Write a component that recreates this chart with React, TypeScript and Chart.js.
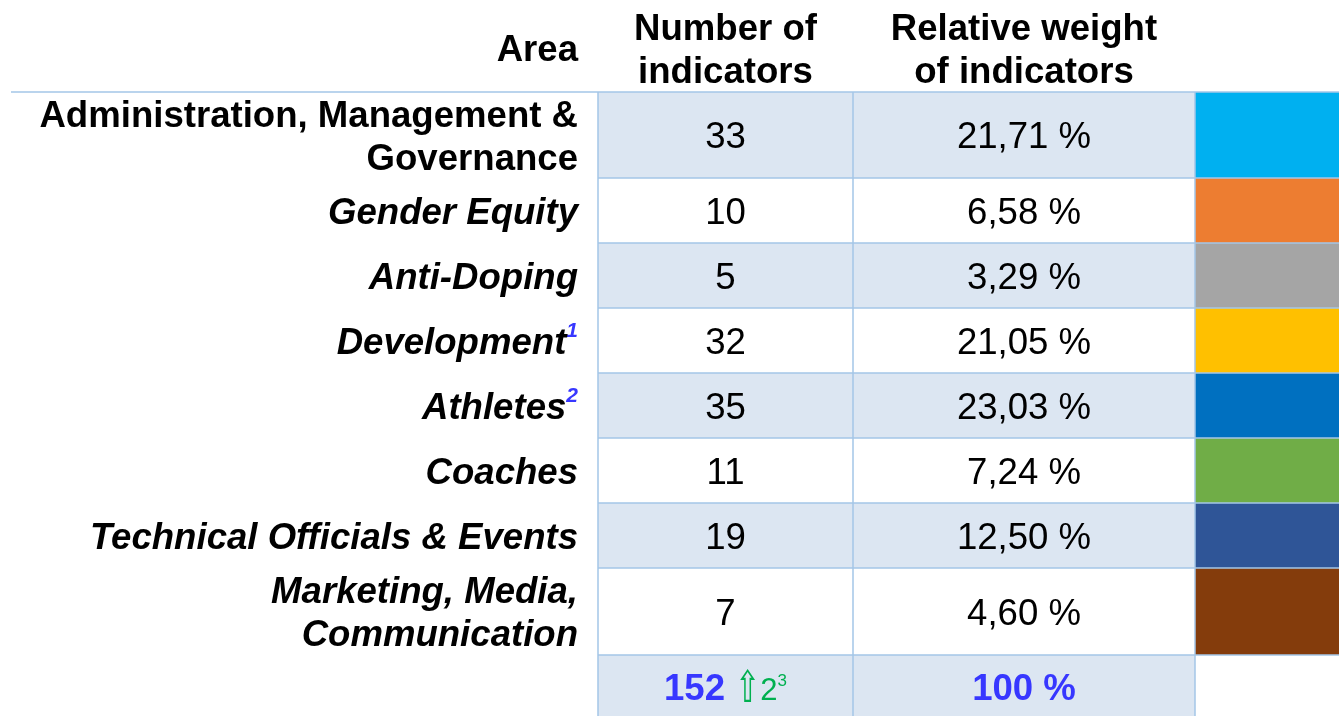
import React, { useEffect, useRef } from "react";
import { Chart, registerables } from "chart.js";

Chart.register(...registerables);

// ---------- data ----------
const headers = ["Area", "Number of\nindicators", "Relative weight\nof indicators"];
const areas = [
  "Administration, Management &\nGovernance",
  "Gender Equity",
  "Anti-Doping",
  "Development",
  "Athletes",
  "Coaches",
  "Technical Officials & Events",
  "Marketing, Media,\nCommunication",
];
const areaItalic = [false, true, true, true, true, true, true, true];
const areaFootnotes = ["", "", "", "1", "2", "", "", ""];
const indicatorCounts = [33, 10, 5, 32, 35, 11, 19, 7];
const relativeWeights = [21.71, 6.58, 3.29, 21.05, 23.03, 7.24, 12.5, 4.6];
const areaColors = ["#00b0f0", "#ed7d31", "#a5a5a5", "#ffc000", "#0070c0", "#70ad47", "#2f5597", "#843c0c"];
const totalCount = 152;
const totalIncrease = 2;
const totalFootnote = "3";
const totalWeight = 100;

// ---------- layout ----------
const W = 1339;
const H = 716;
const headerBottom = 92;
const rowHeights = [86, 65, 65, 65, 65, 65, 65, 87, 66];
const labelRight = 578;
const topLineStart = 11;
const colEdges = [598, 853, 1195, 1339];
const FONT = "'Liberation Sans', Arial, sans-serif";
const FS = 36.6;
const LINE_GAP = 43;
const GRID = "#a4c6e7";
const SHADE = "#dce6f2";
const BLUE = "#3737ff";
const GREEN = "#00b050";

const fmtPct = (v: number, d = 2) => v.toFixed(d).replace(".", ",") + " %";

const tablePlugin = {
  id: "tablePlugin",
  afterDraw(chart: any) {
    const { ctx, scales } = chart;
    const xs = scales.x;
    const ys = scales.y;
    const X = (v: number) => xs.getPixelForValue(v);
    const Y = (v: number) => ys.getPixelForValue(v);

    const edges = [headerBottom];
    rowHeights.forEach((h) => edges.push(edges[edges.length - 1] + h));
    const nRows = areas.length + 1;

    ctx.save();
    // shading and swatches
    for (let i = 0; i < nRows; i++) {
      const top = Y(edges[i]);
      const bot = Y(edges[i + 1]);
      if (i % 2 === 0) {
        ctx.fillStyle = SHADE;
        ctx.fillRect(X(colEdges[0]), top, X(colEdges[2]) - X(colEdges[0]), bot - top);
      }
      if (i < areas.length) {
        ctx.fillStyle = areaColors[i];
        ctx.fillRect(X(colEdges[2]), top, X(colEdges[3]) - X(colEdges[2]), bot - top);
      }
    }

    // grid lines
    ctx.strokeStyle = GRID;
    ctx.lineWidth = 1.5;
    ctx.beginPath();
    ctx.moveTo(X(topLineStart), Y(edges[0]));
    ctx.lineTo(X(W), Y(edges[0]));
    for (let i = 1; i < nRows; i++) {
      ctx.moveTo(X(colEdges[0]), Y(edges[i]));
      ctx.lineTo(X(colEdges[3]), Y(edges[i]));
    }
    for (let c = 0; c < 3; c++) {
      ctx.moveTo(X(colEdges[c]), Y(edges[0]));
      ctx.lineTo(X(colEdges[c]), Y(H));
    }
    ctx.stroke();

    const capOff = FS * 0.358;
    // headers
    ctx.fillStyle = "#000";
    ctx.font = `bold ${FS}px ${FONT}`;
    ctx.textAlign = "right";
    ctx.fillText(headers[0], X(labelRight), Y(headerBottom / 2 + 2) + capOff);
    ctx.textAlign = "center";
    for (let c = 1; c < 3; c++) {
      const lines = headers[c].split("\n");
      const cx = X((colEdges[c - 1] + colEdges[c]) / 2);
      lines.forEach((ln, k) => {
        const cy = headerBottom / 2 + 2 + (k - (lines.length - 1) / 2) * LINE_GAP;
        ctx.fillText(ln, cx, Y(cy) + capOff);
      });
    }

    // rows
    for (let i = 0; i < areas.length; i++) {
      const mid = (edges[i] + edges[i + 1]) / 2;
      const lines = areas[i].split("\n");
      const mainFont = `${areaItalic[i] ? "italic " : ""}bold ${FS}px ${FONT}`;
      let right = X(labelRight);
      if (areaFootnotes[i]) {
        ctx.font = `italic bold 21px ${FONT}`;
        ctx.fillStyle = BLUE;
        ctx.textAlign = "right";
        ctx.fillText(areaFootnotes[i], right, Y(mid) - 4);
        right -= ctx.measureText(areaFootnotes[i]).width;
      }
      ctx.font = mainFont;
      ctx.fillStyle = "#000";
      ctx.textAlign = "right";
      lines.forEach((ln, k) => {
        const cy = mid + (k - (lines.length - 1) / 2) * LINE_GAP;
        ctx.fillText(ln, right, Y(cy) + capOff);
      });

      ctx.font = `${FS}px ${FONT}`;
      ctx.textAlign = "center";
      ctx.fillText(String(indicatorCounts[i]), X((colEdges[0] + colEdges[1]) / 2), Y(mid) + capOff);
      ctx.fillText(fmtPct(relativeWeights[i]), X((colEdges[1] + colEdges[2]) / 2), Y(mid) + capOff);
    }

    // total row
    const ti = areas.length;
    const tmid = edges[ti] + 32;
    const base = Y(tmid) + capOff;
    const pieces: { text: string; font: string; color: string; dy: number; sx: number }[] = [
      { text: String(totalCount) + " ", font: `bold ${FS}px ${FONT}`, color: BLUE, dy: 0, sx: 1 },
      { text: "⇧", font: `44px 'DejaVu Sans', sans-serif`, color: GREEN, dy: 2, sx: 0.68 },
      { text: String(totalIncrease), font: `31px ${FONT}`, color: GREEN, dy: 0, sx: 1 },
      { text: totalFootnote, font: `17px ${FONT}`, color: GREEN, dy: -14, sx: 1 },
    ];
    let totalW = 0;
    const widths = pieces.map((p) => {
      ctx.font = p.font;
      const w = ctx.measureText(p.text).width * p.sx;
      totalW += w;
      return w;
    });
    let px = X((colEdges[0] + colEdges[1]) / 2) - totalW / 2;
    ctx.textAlign = "left";
    pieces.forEach((p, k) => {
      ctx.font = p.font;
      ctx.fillStyle = p.color;
      ctx.save();
      ctx.translate(px, base + p.dy);
      ctx.scale(p.sx, 1);
      ctx.fillText(p.text, 0, 0);
      ctx.restore();
      px += widths[k];
    });
    ctx.font = `bold ${FS}px ${FONT}`;
    ctx.fillStyle = BLUE;
    ctx.textAlign = "center";
    ctx.fillText(`${totalWeight} %`, X((colEdges[1] + colEdges[2]) / 2), base);

    ctx.restore();
  },
};

export default function App() {
  const ref = useRef<HTMLCanvasElement | null>(null);
  useEffect(() => {
    if (!ref.current) return;
    const chart = new Chart(ref.current, {
      type: "bar",
      data: { labels: [], datasets: [] },
      options: {
        animation: false,
        responsive: false,
        devicePixelRatio: 1,
        layout: { padding: 0 },
        plugins: { legend: { display: false }, tooltip: { enabled: false }, title: { display: false } },
        scales: {
          x: { type: "linear", min: 0, max: W, display: false, offset: false, grid: { offset: false } },
          y: { type: "linear", min: 0, max: H, reverse: true, display: false, offset: false },
        },
      },
      plugins: [tablePlugin],
    });
    return () => chart.destroy();
  }, []);
  return (
    <div style={{ position: "absolute", left: 0, top: 0, width: W, height: H, background: "#fff" }}>
      <canvas ref={ref} width={W} height={H} style={{ display: "block" }} />
    </div>
  );
}
